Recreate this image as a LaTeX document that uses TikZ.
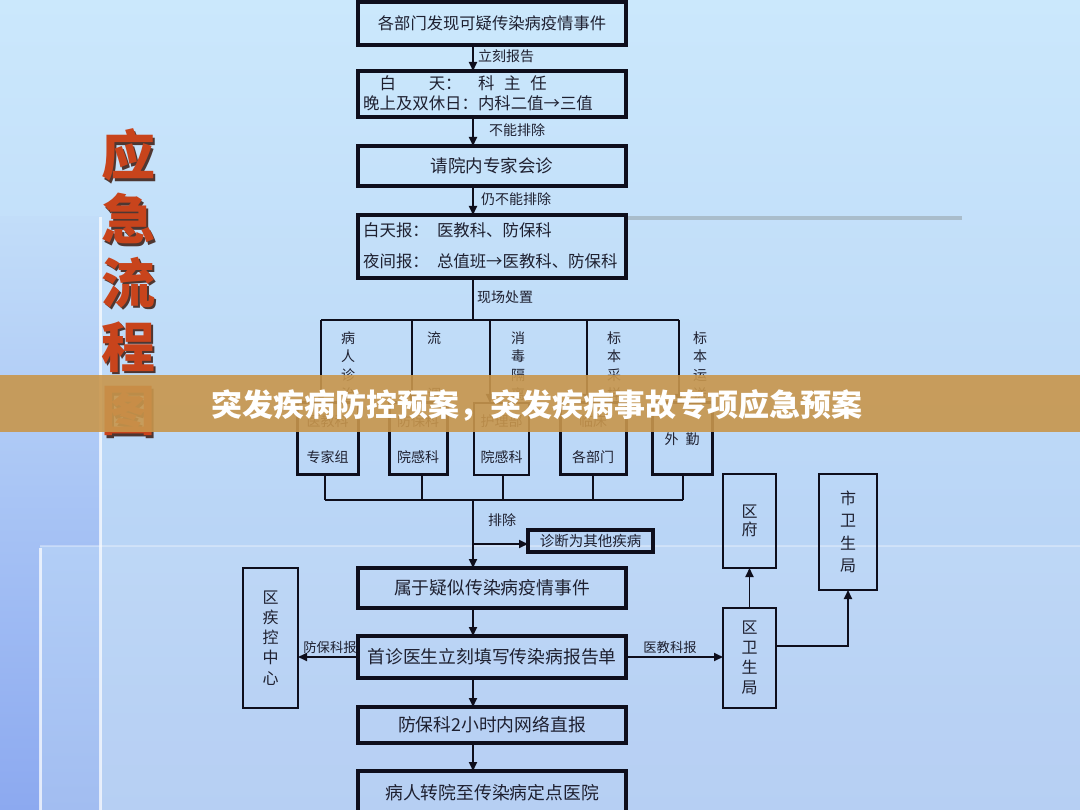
\documentclass[tikz,border=0pt]{standalone}
\usepackage{fontspec}
\setmainfont{Noto Sans CJK SC}
\usetikzlibrary{arrows.meta,calc}
\definecolor{ink}{HTML}{0E0E1C}
\definecolor{txt}{HTML}{1E2030}
\definecolor{bgtop}{HTML}{CBE8FC}
\definecolor{bgbot}{HTML}{B0CBF3}
\definecolor{striptop}{HTML}{C2DDF9}
\definecolor{stripbot}{HTML}{8CA9F0}
\definecolor{ptop}{HTML}{B2CEF6}
\definecolor{pbot}{HTML}{A2BDF1}
\definecolor{barc}{HTML}{A9BCCB}
\definecolor{bann}{HTML}{C8964C}
\definecolor{titlec}{HTML}{C8441C}
\definecolor{shadowc}{HTML}{3A1A10}
\newcommand\fsz[2]{\fontsize{#1}{#2}\selectfont}
\begin{document}
\begin{tikzpicture}[x=1pt,y=-1pt,
  box/.style={draw=ink, line width=3.4pt, inner sep=0pt, outer sep=0pt, text=txt, align=center},
  mbox/.style={draw=ink, line width=3pt, inner sep=0pt, outer sep=0pt, text=txt, align=center},
  tbox/.style={draw=ink, line width=1.8pt, inner sep=0pt, outer sep=0pt, text=txt, align=center},
  conn/.style={draw=ink, line width=1.8pt},
  arr/.style={conn, -{Triangle[length=9pt,width=8pt]}},
  lbl/.style={text=txt, inner sep=0pt, font=\fsz{14}{14}},
  vtxt/.style={text=txt, inner sep=0pt, align=center},
]
\useasboundingbox (0,0) rectangle (1080,810);
% background
\shade[top color=bgtop, bottom color=bgbot] (0,0) rectangle (1080,810);
\shade[top color=striptop, bottom color=stripbot] (0,217) rectangle (100,810);
\shade[top color=ptop, bottom color=pbot] (40,546) rectangle (100,810);
\fill[white, opacity=0.08] (100,546) rectangle (1080,810);
\draw[white, opacity=0.7, line width=3pt] (100,217) -- (100,810);
\draw[white, opacity=0.7, line width=3pt] (40,548) -- (40,810);
\draw[white, opacity=0.3, line width=1.5pt] (40,546) -- (1080,546);
\draw[barc, line width=3.5pt] (626,218) -- (962,218);

% title
\node[text=shadowc, opacity=0.85, inner sep=0pt, align=center, font=\bfseries\fsz{54}{63.7}] (titleS) at (130.5,285) {应\\急\\流\\程\\图};
\node[text=titlec, inner sep=0pt, align=center, font=\bfseries\fsz{54}{63.7}] (title) at (128,282.5) {应\\急\\流\\程\\图};

\coordinate (ax) at (473,0);

% top chain
\node[box, minimum width=268pt, minimum height=43pt, font=\fsz{16.3}{16.3}] (b1) at (492,23.5) {各部门发现可疑传染病疫情事件};
\node[box, minimum width=268pt, minimum height=46pt] (b2) at (492,94) {};
\node[lbl, anchor=west, font=\fsz{16.4}{16.4}] (b2a) at (363,83) {\char"3000 白\char"3000\char"3000 天：\char"3000 科\hspace{0.6em}主\hspace{0.6em}任};
\node[lbl, anchor=west, font=\fsz{16.4}{16.4}] (b2b) at (363,103) {晚上及双休日：内科二值→三值};
\node[box, minimum width=268pt, minimum height=40pt, font=\fsz{17.5}{17.5}] (b3) at (492,166) {请院内专家会诊};
\node[box, minimum width=268pt, minimum height=63pt] (b4) at (492,246.5) {};
\node[lbl, anchor=west, font=\fsz{16.4}{16.4}] (b4a) at (363,230) {白天报：\hspace{0.5em}医教科、防保科};
\node[lbl, anchor=west, font=\fsz{16.4}{16.4}] (b4b) at (363,261) {夜间报：\hspace{0.5em}总值班→医教科、防保科};

\draw[arr] (b1.south -| ax) -- (b2.north -| ax);
\node[lbl, anchor=west] (l1) at (478,56) {立刻报告};
\draw[arr] (b2.south -| ax) -- (b3.north -| ax);
\node[lbl, anchor=west] (l2) at (489,130) {不能排除};
\draw[arr] (b3.south -| ax) -- (b4.north -| ax);
\node[lbl, anchor=west] (l3) at (481,199) {仍不能排除};

% distribution
\coordinate (jt) at (473,320);
\draw[conn] (b4.south -| ax) -- (jt);
\node[lbl, anchor=west] (l4) at (477,297) {现场处置};
\coordinate (k1) at (321,320);
\coordinate (k2) at (412,320);
\coordinate (k3) at (490,320);
\coordinate (k4) at (587,320);
\coordinate (k5) at (679,320);
\draw[conn] (k1) -- (k5);

\node[vtxt, font=\fsz{14}{18.7}] (t1) at (348,366) {病\\人\\诊\\治};
\node[vtxt, font=\fsz{14}{18.7}] (t2) at (434,366) {流\\\mbox{}\\\mbox{}\\调};
\node[vtxt, font=\fsz{14}{18.7}] (t3) at (518,366) {消\\毒\\隔\\离};
\node[vtxt, font=\fsz{14}{18.7}] (t4) at (614,366) {标\\本\\采\\样};
\node[vtxt, font=\fsz{14}{18.7}] (t5) at (700,366) {标\\本\\运\\送};

\node[mbox, minimum width=61pt, minimum height=72pt, font=\fsz{14}{36}] (c1) at (327.5,439) {医教科\\专家组};
\node[mbox, minimum width=58pt, minimum height=72pt, font=\fsz{14}{36}] (c2) at (418,439) {防保科\\院感科};
\node[tbox, minimum width=55pt, minimum height=72pt, font=\fsz{14}{36}] (c3) at (501.5,439) {护理部\\院感科};
\node[mbox, minimum width=66pt, minimum height=72pt, font=\fsz{14}{36}] (c4) at (593,439) {临床\\各部门};
\node[mbox, minimum width=60pt, minimum height=72pt, font=\fsz{14}{14}] (c5) at (682,439) {外\hspace{0.5em}勤};

\draw[arr] (k1) -- (k1 |- c1.north);
\draw[arr] (k2) -- (k2 |- c2.north);
\draw[arr] (k3) -- (k3 |- c3.north);
\draw[arr] (k4) -- (k4 |- c4.north);
\draw[arr] (k5) -- (k5 |- c5.north);

\coordinate (q1) at (325,500);
\coordinate (q2) at (422,500);
\coordinate (q3) at (503,500);
\coordinate (q4) at (593,500);
\coordinate (q5) at (683,500);
\draw[conn] (c1.south -| q1) -- (q1);
\draw[conn] (c2.south -| q2) -- (q2);
\draw[conn] (c3.south -| q3) -- (q3);
\draw[conn] (c4.south -| q4) -- (q4);
\draw[conn] (c5.south -| q5) -- (q5);
\draw[conn] (q1) -- (q5);

% lower chain
\node[box, minimum width=125pt, minimum height=22pt, font=\fsz{14.5}{14.5}] (oth) at (590.5,541) {诊断为其他疾病};
\node[box, minimum width=268pt, minimum height=40pt, font=\fsz{17.8}{17.8}] (m1) at (492,588) {属于疑似传染病疫情事件};
\node[box, minimum width=268pt, minimum height=42pt, font=\fsz{17.8}{17.8}] (m2) at (492,657) {首诊医生立刻填写传染病报告单};
\node[box, minimum width=268pt, minimum height=36pt, font=\fsz{17.8}{17.8}] (m3) at (492,725) {防保科2小时内网络直报};
\node[box, minimum width=268pt, minimum height=44pt, font=\fsz{17.8}{17.8}] (m4) at (492,793) {病人转院至传染病定点医院};
\draw[box] (m4.north west) -- (m4.south west) (m4.north east) -- (m4.south east);

\coordinate (br) at (473,544);
\draw[arr] (q1 -| ax) -- (m1.north -| ax);
\draw[arr] (br) -- (br -| oth.west);
\node[lbl, anchor=west] (l5) at (488,520) {排除};
\draw[arr] (m1.south -| ax) -- (m2.north -| ax);
\draw[arr] (m2.south -| ax) -- (m3.north -| ax);
\draw[arr] (m3.south -| ax) -- (m4.north -| ax);

% side boxes
\node[tbox, minimum width=55pt, minimum height=140pt, font=\fsz{16}{20.2}] (jk) at (270.5,638) {区\\疾\\控\\中\\心};
\node[tbox, minimum width=53pt, minimum height=94pt, font=\fsz{16}{18}] (qf) at (749.5,521) {区\\府};
\node[tbox, minimum width=58pt, minimum height=116pt, font=\fsz{16}{22.3}] (sws) at (848,532) {市\\卫\\生\\局};
\node[tbox, minimum width=53pt, minimum height=100pt, font=\fsz{16}{20}] (qws) at (749.5,658) {区\\卫\\生\\局};

\draw[arr] (m2.west) -- (m2.west -| jk.east);
\node[lbl, font=\fsz{13.3}{13.3}] (l6) at (330,647) {防保科报};
\draw[arr] (m2.east) -- (m2.east -| qws.west);
\node[lbl, font=\fsz{13.3}{13.3}] (l7) at (670,647) {医教科报};
\draw[arr] (qws.north) -- (qf.south);
\coordinate (tt) at (848,646);
\draw[arr] (qws.east |- tt) -- (tt) -- (sws.south);

% banner
\fill[bann, opacity=0.9] (0,375) rectangle (1080,432);
\node[text=white, inner sep=0pt, font=\bfseries\fsz{31}{31}] (banner) at (537,405) {突发疾病防控预案，突发疾病事故专项应急预案};
\end{tikzpicture}
\end{document}
